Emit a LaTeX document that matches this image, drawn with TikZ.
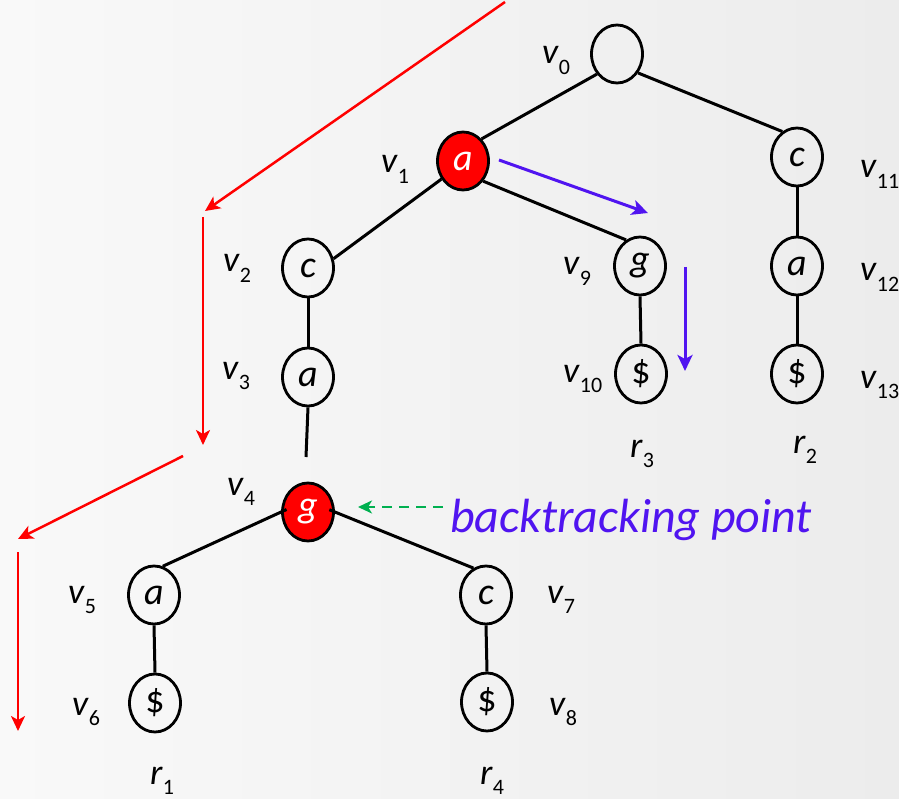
\documentclass[tikz,border=0pt]{standalone}
\usepackage{fontspec}
\setmainfont{Carlito}
\usetikzlibrary{shapes.geometric,arrows.meta}
\definecolor{myblue}{RGB}{80,20,240}
\definecolor{mygreen}{RGB}{0,176,80}
\definecolor{bgl}{RGB}{249,249,249}
\definecolor{bgr}{RGB}{236,236,236}
\newcommand{\vl}[2]{\textit{#1}\raisebox{-0.28em}{\fontsize{22}{22}\selectfont #2}}
\tikzset{
  vnode/.style={ellipse, draw, line width=2.8pt, minimum width=51pt, minimum height=58pt, inner sep=0pt, font=\fontsize{38}{42}\selectfont\itshape},
  rnode/.style={vnode, fill=red, text=white},
  edge/.style={line width=3pt},
  lab/.style={anchor=base west, inner sep=0pt, font=\fontsize{36}{40}\selectfont},
  redarr/.style={red, line width=2.5pt, -{Stealth[length=15pt,width=14pt,inset=4pt]}},
  bluearr/.style={myblue, line width=3pt, -{Stealth[length=16pt,width=15pt,inset=4pt]}},
  greenarr/.style={mygreen, line width=2.6pt, dash pattern=on 10pt off 7pt, -{Stealth[length=14pt,width=13pt,inset=4pt]}}
}
\begin{document}
\begin{tikzpicture}[x=1pt,y=-1pt]
\useasboundingbox (0,0) rectangle (899,799);
\shade[left color=bgl, right color=bgr] (0,0) rectangle (899,799);

% nodes
\node[vnode] (v0) at (617,54) {};
\node[rnode] (v1) at (463,161) {a};
\node[vnode] (v11) at (797,157) {c};
\node[vnode] (v2) at (308,268) {c};
\node[vnode] (v9) at (640,266) {g};
\node[vnode] (v12) at (797,266) {a};
\node[vnode] (v3) at (308,377) {a};
\node[vnode] (v10) at (641,374) {\upshape\$};
\node[vnode] (v13) at (797,374) {\upshape\$};
\node[rnode] (v4) at (308,512) {g};
\node[vnode] (v5) at (154,595) {a};
\node[vnode] (v7) at (486,595) {c};
\node[vnode] (v6) at (155,703) {\upshape\$};
\node[vnode] (v8) at (487,702) {\upshape\$};
\coordinate (v3end) at (306,457);

% edges
\draw[edge] (v0.225) -- (v1.50);
\draw[edge] (v0.-42) -- (v11.120);
\draw[edge] (v1.220) -- (v2.20);
\draw[edge] (v1.-45) -- (v9.118);
\draw[edge] (v2.south) -- (v3.north);
\draw[edge] (v3.south) -- (v3end);
\draw[edge] (v9.south) -- (v10.north);
\draw[edge] (v11.south) -- (v12.north);
\draw[edge] (v12.south) -- (v13.north);
\draw[edge, shorten <=-6pt] (v4.west) -- (v5.73);
\draw[edge, shorten <=-6pt] (v4.east) -- (v7.115);
\draw[edge] (v5.south) -- (v6.north);
\draw[edge] (v7.south) -- (v8.north);

% labels
\node[lab] (l0) at (542,64) {\vl{v}{0}};
\node[lab] (l1) at (381,173) {\vl{v}{1}};
\node[lab] (l11) at (860,178) {\vl{v}{11}};
\node[lab] (l2) at (223,272) {\vl{v}{2}};
\node[lab] (l9) at (563,275) {\vl{v}{9}};
\node[lab] (l12) at (860,281) {\vl{v}{12}};
\node[lab] (l3) at (222,379) {\vl{v}{3}};
\node[lab] (l10) at (563,382) {\vl{v}{10}};
\node[lab] (l13) at (860,388) {\vl{v}{13}};
\node[lab] (l4) at (227,495) {\vl{v}{4}};
\node[lab] (l5) at (68,603) {\vl{v}{5}};
\node[lab] (l6) at (72,715) {\vl{v}{6}};
\node[lab] (l7) at (547,603) {\vl{v}{7}};
\node[lab] (l8) at (549,715) {\vl{v}{8}};
\node[lab] (r3) at (630,457) {\vl{r}{3}};
\node[lab] (r2) at (793,453) {\vl{r}{2}};
\node[lab] (r1) at (150,784) {\vl{r}{1}};
\node[lab] (r4) at (480,784) {\vl{r}{4}};

% backtracking
\node[anchor=base west, inner sep=0pt, text=myblue, font=\fontsize{48}{52}\selectfont\itshape] (bt) at (450,532) {backtracking point};
\coordinate (gs) at (443,507);
\coordinate (ge) at (358,507);
\draw[greenarr] (gs) -- (ge);

% blue arrows
\coordinate (b1s) at (499,160);
\coordinate (b1e) at (648,213);
\coordinate (b2s) at (685,267);
\coordinate (b2e) at (685,371);
\draw[bluearr] (b1s) -- (b1e);
\draw[bluearr] (b2s) -- (b2e);

% red arrows
\coordinate (r1s) at (505,2);
\coordinate (r1e) at (205,211);
\coordinate (r2s) at (203,217);
\coordinate (r2e) at (203,445);
\coordinate (r3s) at (183,456);
\coordinate (r3e) at (18,539);
\coordinate (r4s) at (18,552);
\coordinate (r4e) at (18,731);
\draw[redarr] (r1s) -- (r1e);
\draw[redarr] (r2s) -- (r2e);
\draw[redarr] (r3s) -- (r3e);
\draw[redarr] (r4s) -- (r4e);
\end{tikzpicture}
\end{document}
